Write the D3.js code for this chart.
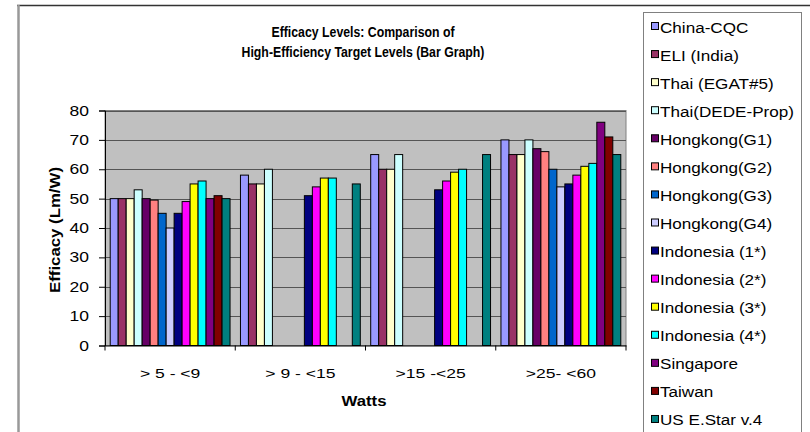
<!DOCTYPE html>
<html>
    <head>
        <meta charset="utf-8" />
        <title>Efficacy Levels</title>
        <script src="https://cdn.jsdelivr.net/npm/d3@7"></script>
        <style>
            body {
                margin: 0;
                background: #fff;
            }
            text {
                font-family: 'Liberation Sans', Arial, sans-serif;
            }
        </style>
    </head>
    <body>
        <svg id="chart" width="810" height="432"></svg>
        <script>
            // categories and series (null = no target in that range)
            var categories = ['> 5 - <9', '> 9 - <15', '>15 -<25', '>25- <60'];
            var seriesNames = [
                'China-CQC', 'ELI (India)', 'Thai (EGAT#5)', 'Thai(DEDE-Prop)',
                'Hongkong(G1)', 'Hongkong(G2)', 'Hongkong(G3)', 'Hongkong(G4)',
                'Indonesia (1*)', 'Indonesia (2*)', 'Indonesia (3*)', 'Indonesia (4*)',
                'Singapore', 'Taiwan', 'US E.Star v.4'
            ];
            var seriesColors = [
                '#9999ff', '#993366', '#ffffcc', '#ccffff',
                '#660066', '#ff8080', '#0066cc', '#ccccff',
                '#000080', '#ff00ff', '#ffff00', '#00ffff',
                '#800080', '#800000', '#008080'
            ];
            // one row per series, one value per category
            var values = [
                [50, 58, 65, 70],
                [50, 55, 60, 65],
                [50, 55, 60, 65],
                [53, 60, 65, 70],
                [50, null, null, 67],
                [49.5, null, null, 66],
                [45, null, null, 60],
                [40, null, null, 54],
                [45, 51, 53, 55],
                [49, 54, 56, 58],
                [55, 57, 59, 61],
                [56, 57, 60, 62],
                [50, null, null, 76],
                [51, null, null, 71],
                [50, 55, 65, 65]
            ];
            var yTicks = [0, 10, 20, 30, 40, 50, 60, 70, 80];

            var svg = d3.select('#chart');
            var plot = { left: 105, right: 626, top: 110.5, bottom: 345.5 };

            var x0 = d3.scaleBand().domain(categories).range([plot.left, plot.right])
                .paddingInner(0.08).paddingOuter(0.04);
            var x1 = d3.scaleBand().domain(d3.range(seriesNames.length)).range([0, x0.bandwidth()]);
            var y = d3.scaleLinear().domain([0, 80]).range([plot.bottom, plot.top]);

            // text helper with horizontal stretch (the source picture is squashed)
            function label(g, txt, x, yy, opts) {
                opts = opts || {};
                return g.append('text')
                    .attr('transform', 'translate(' + x + ',' + yy + ')' + (opts.rotate ? ' rotate(' + opts.rotate + ')' : '') + ' scale(' + (opts.sx || 1) + ',1)')
                    .attr('text-anchor', opts.anchor || 'middle')
                    .attr('font-size', opts.size || 13)
                    .attr('font-weight', opts.bold ? 'bold' : 'normal')
                    .attr('fill', '#000')
                    .text(txt);
            }

            // outer chart border
            svg.append('line').attr('x1', 17).attr('x2', 810).attr('y1', 5.5).attr('y2', 5.5)
                .attr('stroke', '#333').attr('stroke-width', 1.5);
            svg.append('line').attr('x1', 18.5).attr('x2', 18.5).attr('y1', 5).attr('y2', 432)
                .attr('stroke', '#999').attr('stroke-width', 2.5);

            // plot area
            svg.append('rect')
                .attr('x', plot.left).attr('y', plot.top)
                .attr('width', plot.right - plot.left).attr('height', plot.bottom - plot.top)
                .attr('fill', '#c0c0c0').attr('stroke', '#808080');

            svg.append('g').selectAll('line').data(yTicks.slice(1)).join('line')
                .attr('x1', plot.left).attr('x2', plot.right)
                .attr('y1', (d) => Math.round(y(d)) + 0.5).attr('y2', (d) => Math.round(y(d)) + 0.5)
                .attr('stroke', '#555').attr('stroke-width', 1.2);

            // bars
            var groups = svg.append('g').selectAll('g').data(seriesNames).join('g')
                .attr('fill', (d, i) => seriesColors[i]);
            groups.selectAll('rect')
                .data((d, i) => values[i].map((v, j) => ({ v: v, cat: categories[j], s: i })))
                .join('rect')
                .filter((d) => d.v != null)
                .attr('x', (d) => x0(d.cat) + x1(d.s))
                .attr('y', (d) => y(d.v))
                .attr('width', x1.bandwidth())
                .attr('height', (d) => y(0) - y(d.v))
                .attr('stroke', '#000').attr('stroke-width', 1);

            // axes
            var yAxis = svg.append('g').attr('transform', 'translate(' + plot.left + ',0)')
                .call(d3.axisLeft(y).tickValues(yTicks).tickSize(6).tickFormat(''));
            yAxis.select('.domain').attr('stroke', '#000');
            yAxis.selectAll('.tick line').attr('stroke', '#000');
            yTicks.forEach(function (t) {
                label(svg, t, 89, y(t) + 5, { anchor: 'end', size: 14, sx: 1.25 });
            });

            var xAxis = svg.append('g').attr('transform', 'translate(0,' + plot.bottom + ')')
                .call(d3.axisBottom(x0).tickSize(0).tickFormat(''));
            xAxis.select('.domain').attr('stroke', '#000');
            var bounds = categories.map((c) => x0(c) - (x0.step() - x0.bandwidth()) / 2);
            bounds.push(plot.right);
            xAxis.selectAll('.bound').data(bounds).join('line')
                .attr('x1', (d) => d).attr('x2', (d) => d).attr('y1', 0).attr('y2', 5)
                .attr('stroke', '#000');
            categories.forEach(function (c) {
                label(svg, c, x0(c) + x0.bandwidth() / 2, 378, { size: 13.5, sx: 1.3 });
            });

            // titles
            label(svg, 'Efficacy Levels: Comparison of', 363, 37, { size: 15, bold: true, sx: 0.82 });
            label(svg, 'High-Efficiency Target Levels (Bar Graph)', 363, 57, { size: 15, bold: true, sx: 0.82 });
            label(svg, 'Watts', 364, 406, { size: 14, bold: true, sx: 1.2 });
            label(svg, 'Efficacy (Lm/W)', 60, 230, { size: 14, bold: true, rotate: -90, sx: 1.2 });

            // legend
            var legend = svg.append('g');
            legend.append('rect').attr('x', 643.5).attr('y', 12.5).attr('width', 158).attr('height', 430)
                .attr('fill', '#fff').attr('stroke', '#808080');
            seriesNames.forEach(function (name, i) {
                var cy = 27 + i * 28.07;
                legend.append('rect').attr('x', 651.5).attr('y', cy - 4.5).attr('width', 7).attr('height', 7)
                    .attr('fill', seriesColors[i]).attr('stroke', '#000');
                label(legend, name, 660, cy + 5.5, { anchor: 'start', size: 15, sx: 1.14 });
            });
        </script>
    </body>
</html>
